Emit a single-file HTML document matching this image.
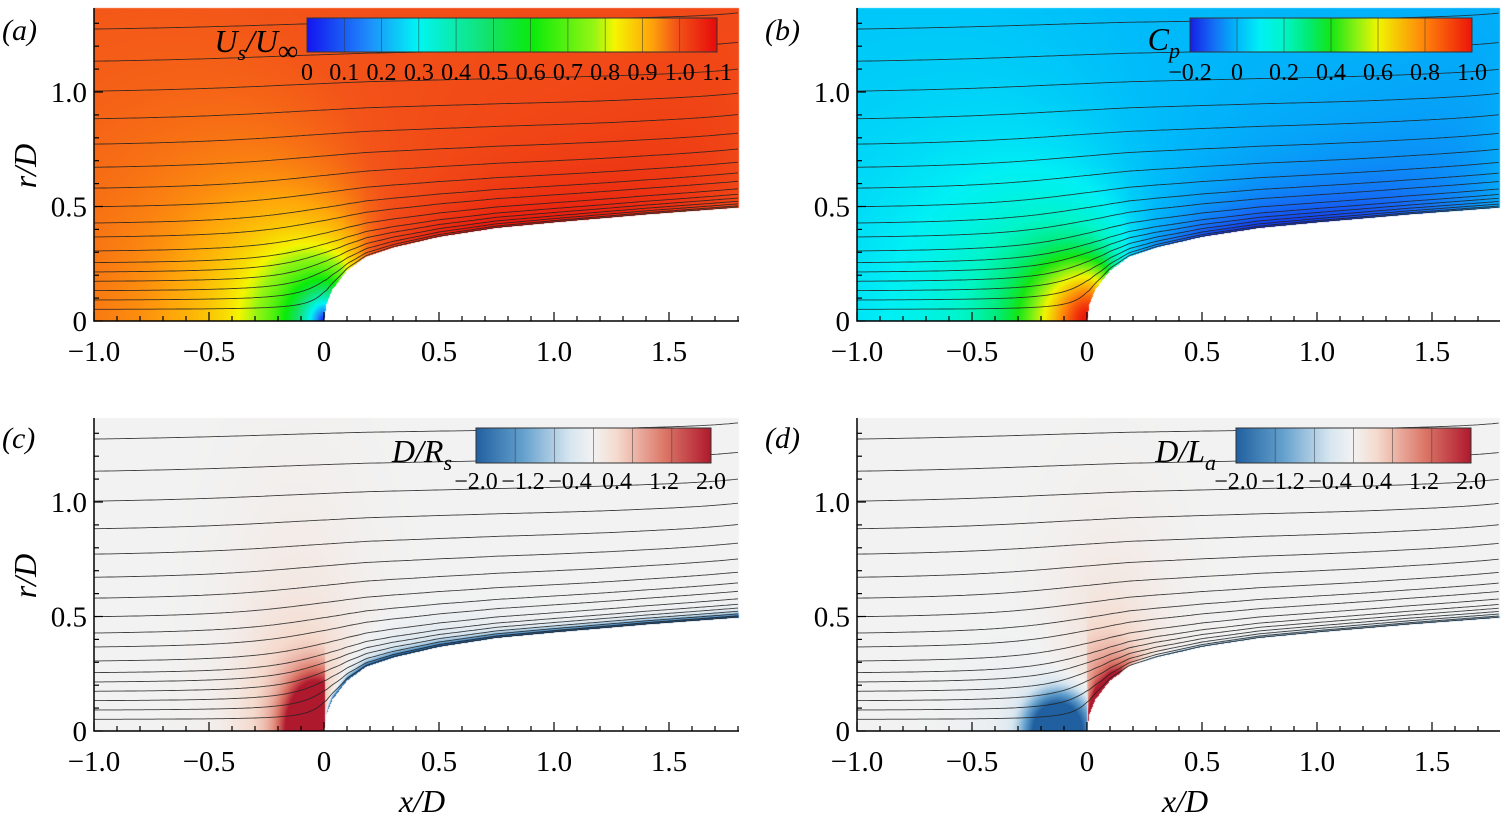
<!DOCTYPE html>
<html><head><meta charset="utf-8"><style>
body{margin:0;background:#fff;}
#wrap{position:relative;width:1503px;height:823px;overflow:hidden;font-family:"Liberation Serif",serif;}
canvas{position:absolute;left:0;top:0;}
svg{position:absolute;left:0;top:0;}
text{font-family:"Liberation Serif",serif;}
</style></head><body>
<div id="wrap">
<canvas id="cv" width="1503" height="823"></canvas>
<svg id="sv" width="1503" height="823" xmlns="http://www.w3.org/2000/svg"></svg>
</div>
<script>
var xTicks=[-1.0,-0.5,0,0.5,1.0,1.5];
var xTickLabels=["\u22121.0","\u22120.5","0","0.5","1.0","1.5"];
var yTicks=[0,0.5,1.0];
var yTickLabels=["0","0.5","1.0"];
var streamR0=[0.05,0.09,0.13,0.17,0.21,0.25,0.30,0.36,0.42,0.49,0.57,0.66,0.76,0.87,0.99,1.12,1.26,1.40];
var bodyX=[0,0.01,0.035,0.1,0.183,0.3,0.5,0.75,1.0,1.4,1.8,2.0];
var bodyRv=[0,0.07,0.135,0.22,0.28,0.32,0.367,0.406,0.43,0.465,0.495,0.497];
var cbA=["0","0.1","0.2","0.3","0.4","0.5","0.6","0.7","0.8","0.9","1.0","1.1"];
var cbB=["\u22120.2","0","0.2","0.4","0.6","0.8","1.0"];
var cbC=["\u22122.0","\u22121.2","\u22120.4","0.4","1.2","2.0"];
var K=0.0625, XS=0.25, SX=230, SY=229;
var panels=[
 {id:'a',X0:94,Y0:321,top:8,right:739,label:'(a)',lx:2,ly:40,showX:false},
 {id:'b',X0:857,Y0:321,top:8,right:1500,label:'(b)',lx:765,ly:40,showX:false},
 {id:'c',X0:94,Y0:731,top:418,right:739,label:'(c)',lx:2,ly:448,showX:true},
 {id:'d',X0:857,Y0:731,top:418,right:1500,label:'(d)',lx:765,ly:448,showX:true}
];
var jet=[[0,[20,20,240]],[0.15,[30,140,250]],[0.27,[0,245,245]],[0.45,[20,225,100]],[0.55,[10,235,10]],[0.7,[150,245,20]],[0.75,[245,245,0]],[0.84,[255,165,10]],[0.9,[243,85,25]],[1.0,[230,10,10]]];
var cpMap=[[-0.2,[20,30,230]],[-0.1,[20,110,245]],[0,[0,185,250]],[0.1,[0,240,245]],[0.2,[0,245,200]],[0.3,[0,235,120]],[0.4,[20,230,20]],[0.5,[130,240,20]],[0.6,[240,245,0]],[0.8,[255,130,10]],[1.0,[235,20,10]]];
var div=[[-2,[32,96,160]],[-1.2,[100,160,205]],[-0.4,[215,230,240]],[0,[242,242,242]],[0.4,[245,218,205]],[1.2,[220,120,105]],[2,[175,25,45]]];
function lerpStops(stops,t){
 if(!(t>stops[0][0]))return stops[0][1];
 for(var i=1;i<stops.length;i++){if(t<=stops[i][0]){var a=stops[i-1],b=stops[i];var f=(t-a[0])/(b[0]-a[0]);return [a[1][0]+(b[1][0]-a[1][0])*f,a[1][1]+(b[1][1]-a[1][1])*f,a[1][2]+(b[1][2]-a[1][2])*f];}}
 return stops[stops.length-1][1];
}
function bodyR(x){ if(x<0)return -1; for(var i=1;i<bodyX.length;i++){if(x<=bodyX[i]){var f=(x-bodyX[i-1])/(bodyX[i]-bodyX[i-1]);return bodyRv[i-1]+(bodyRv[i]-bodyRv[i-1])*f;}} return bodyRv[bodyRv.length-1];}
function rankR(X){ if(X<=0)return 0; var r=0.3; for(var i=0;i<80;i++){var rho=Math.sqrt((X-XS)*(X-XS)+r*r);r=Math.sqrt(Math.max(0,0.125*(1+(X-XS)/rho)));} return r;}
var STEP=0.005, fTab=[];
for(var i=0;i<=440;i++){
 var x=i*STEP, target=bodyR(x);
 if(x===0){fTab.push(0);continue;}
 var lo=0,hi=20;for(var it=0;it<50;it++){var mid=(lo+hi)/2;if(rankR(mid)<target)lo=mid;else hi=mid;}
 fTab.push((lo+hi)/2);
}
for(var pass=0;pass<3;pass++){var tmp=fTab.slice();for(var j=2;j<fTab.length-1;j++)tmp[j]=(fTab[j-1]+fTab[j]+fTab[j+1])/3;fTab=tmp;}
var s0=fTab[6]/(6*STEP);
function warp(x){
 if(x<=0)return x*(s0+(1-s0)*(1-Math.exp(x/0.3)));
 var p=x/STEP, i=Math.floor(p); if(i>=fTab.length-1)return fTab[fTab.length-1]+(x-(fTab.length-1)*STEP);
 var f=p-i; return fTab[i]+(fTab[i+1]-fTab[i])*f;
}
function speed(X,r){
 var dx=X-XS, rho=Math.sqrt(dx*dx+r*r)+1e-9, r3=rho*rho*rho;
 var u=1+K*dx/r3, v=K*r/r3; var U=Math.sqrt(u*u+v*v);
 if(U>1)U=1+(U-1)*0.55;
 return U;
}
function fieldVal(p,x,r,rb){
 var U=speed(warp(x),r);
 if(p==='a')return U;
 if(p==='b')return 1-U*U;
 var dist=rb>=0? r-rb : 1, val;
 if(p==='c'){
  val=0.7*Math.exp(-(Math.pow((x+0.1)/0.2,2)+Math.pow(r/0.35,2)));
  val+=0.25*Math.exp(-Math.pow((x+0.12)/0.3,2))*Math.exp(-Math.pow(r/0.9,2));
  if(x<0.003) val+=3.6*Math.exp(-Math.pow(Math.pow((x+0.03)/0.13,2)+Math.pow(r/0.22,2),1.2));
  if(x>0){val-=0.35*Math.exp(-Math.pow((x-0.3)/0.45,2))*Math.exp(-Math.pow(dist/0.12,2)); val-=3*Math.exp(-dist/0.015)*Math.min(1,x/0.02);}
  return val;
 }
 val=0.4*Math.exp(-Math.pow((x-0.1)/0.25,2))*Math.exp(-Math.pow(r/0.7,2));
 val-=0.3*Math.exp(-Math.pow((x+0.15)/0.3,2))*Math.exp(-Math.pow(r/0.3,2));
 if(x<0.005) val-=2.8*Math.exp(-Math.pow(Math.pow((x+0.12)/0.15,2)+Math.pow(r/0.17,2),1.5));
 if(x>0){ val+=3.2*Math.exp(-dist/0.05)*Math.exp(-Math.pow(x/0.17,2))*Math.min(1,r/0.05);
  val+=0.6*Math.exp(-Math.pow((x-0.05)/0.15,2)-Math.pow(r-0.2,2)/0.05);
  if(x>0.15) val-=1.5*Math.exp(-dist/0.008);}
 return val;
}
function colorFor(p,v){
 if(p==='a')return lerpStops(jet,v/1.1);
 if(p==='b')return lerpStops(cpMap,v);
 return lerpStops(div,Math.max(-2,Math.min(2,v)));
}
try{
 var cv=document.getElementById('cv');var ctx=cv.getContext('2d');
 ctx.fillStyle='#fff';ctx.fillRect(0,0,1503,823);
 panels.forEach(function(P){
  var W=P.right-P.X0,H=P.Y0-P.top;
  var img=ctx.createImageData(W,H);var dd=img.data;
  for(var px=0;px<W;px++){
   var x=(px+0.5)/SX-1; var rb=bodyR(x);
   for(var py=0;py<H;py++){
    var r=(H-py-0.5)/SY; var k=(py*W+px)*4;
    if(rb>=0 && r<rb){dd[k]=dd[k+1]=dd[k+2]=255;dd[k+3]=255;continue;}
    var c=colorFor(P.id,fieldVal(P.id,x,r,rb));
    dd[k]=c[0];dd[k+1]=c[1];dd[k+2]=c[2];dd[k+3]=255;
   }
  }
  ctx.putImageData(img,P.X0,P.top);
 });
}catch(e){console.log(e);}
var NS='http://www.w3.org/2000/svg';var sv=document.getElementById('sv');
function el(t,a,parent){var e=document.createElementNS(NS,t);for(var k in a)e.setAttribute(k,String(a[k]));(parent||sv).appendChild(e);return e;}
function streamR(psi,x){
 var X=warp(x);
 var r=Math.sqrt(2*psi)+0.05;
 for(var i=0;i<80;i++){var rho=Math.sqrt((X-XS)*(X-XS)+r*r);r=Math.sqrt(Math.max(0,2*psi+2*K*(1+(X-XS)/rho)));}
 return r;
}
panels.forEach(function(P){
 try{
 var g=el('g',{});
 
 
 var mx=function(x){return P.X0+(x+1)*SX;}, my=function(r){return P.Y0-r*SY;};
 var xmax=(P.right-P.X0)/SX-1, rmax=(P.Y0-P.top)/SY;
 streamR0.forEach(function(r0,i){
  var psi=0.5*r0*r0; var pts=[];
  for(var x=-1;x<=xmax+0.001;x+=0.01){var r=streamR(psi,x);if(r>rmax)break;pts.push(mx(x).toFixed(1)+','+my(r).toFixed(1));}
  if(pts.length<2)return;
  var pl=el('polyline',{points:pts.join(' '),fill:'none',stroke:'#222','stroke-width':0.9,'stroke-opacity':0.85},g);
  
  
 });
 var ax=el('path',{d:'M'+P.X0+','+P.top+' V'+P.Y0+' H'+P.right,stroke:'#000','stroke-width':1.5,fill:'none'},g);
 
 
 for(var n=0;n<=Math.floor((xmax+1)*10+1e-6);n++){var t=-1+n/10;var major=n%5===0;el('line',{x1:mx(t),x2:mx(t),y1:P.Y0,y2:P.Y0-(major?9:5),stroke:'#000','stroke-width':1.2},g);}
 for(var m=0;m<=Math.floor(rmax*10);m++){var t2=m/10;var mj=m%5===0;el('line',{y1:my(t2),y2:my(t2),x1:P.X0,x2:P.X0+(mj?9:5),stroke:'#000','stroke-width':1.2},g);}
 xTicks.forEach(function(t,i){var tx=el('text',{x:mx(t),y:P.Y0+40,'font-size':29,'text-anchor':'middle'},g);tx.textContent=xTickLabels[i];
  
  });
 yTicks.forEach(function(t,i){var tx=el('text',{x:P.X0-7,y:my(t)+10,'font-size':29,'text-anchor':'end'},g);tx.textContent=yTickLabels[i];
  
  });
 var lb=el('text',{x:P.lx,y:P.ly,'font-size':30,'font-style':'italic'},g);lb.textContent=P.label;
 
 
 if(P.id==='a'||P.id==='c'){var yl=el('text',{x:0,y:0,'font-size':32,'font-style':'italic','text-anchor':'middle',transform:'translate(36,'+(P.Y0-155)+') rotate(-90)'},g);yl.textContent='r/D';
  
  }
 if(P.showX){var xl=el('text',{x:P.X0+328,y:812,'font-size':32,'font-style':'italic','text-anchor':'middle'},g);xl.textContent='x/D';
  
  }
 }catch(e){console.log(e);}
});
function colorbar(id,x0,y0,w,h,labels,labY,stops,segs,parts,tx,ty){
 try{
 var g=el('g',{});
 
 
 var gid='grad'+id;var defs=el('defs',{},g);var lg=el('linearGradient',{id:gid,x1:0,x2:1,y1:0,y2:0},defs);
 stops.forEach(function(s){el('stop',{offset:s[0],'stop-color':'rgb('+s[1].map(Math.round).join(',')+')'},lg);});
 el('rect',{x:x0,y:y0,width:w,height:h,fill:'url(#'+gid+')',stroke:'#333','stroke-width':1},g);
 for(var i=1;i<segs;i++)el('line',{x1:x0+w*i/segs,x2:x0+w*i/segs,y1:y0,y2:y0+h,stroke:'#333','stroke-width':0.7,'stroke-opacity':0.7},g);
 labels.forEach(function(l,i){var t=el('text',{x:x0+w*i/(labels.length-1),y:labY,'font-size':24,'text-anchor':'middle'},g);t.textContent=l;
  
  });
 var tt=el('text',{x:tx,y:ty,'font-size':32,'font-style':'italic','text-anchor':'end'},g);
 
 
 parts.forEach(function(p){var s=el('tspan',{'font-size':p[1],dy:p[2]},tt);s.textContent=p[0];});
 }catch(e){console.log(e);}
}
var jetStops=jet.map(function(s){return [s[0],s[1]];});
colorbar('a',307,18,410,34,cbA,80,jetStops,11,[['U',32,0],['s',22,8],['/U',32,-8],['∞',28,8]],298,52);
var cpStops=cpMap.map(function(s){return [(s[0]+0.2)/1.2,s[1]];});
colorbar('b',1190,18,282,34,cbB,80,cpStops,6,[['C',32,0],['p',22,8]],1180,50);
var divStops=div.map(function(s){return [(s[0]+2)/4,s[1]];});
colorbar('c',476,428,235,35,cbC,489,divStops,6,[['D/R',32,0],['s',22,8]],452,462);
colorbar('d',1236,428,235,35,cbC,489,divStops,6,[['D/L',32,0],['a',22,8]],1216,462);
</script>
</body></html>
